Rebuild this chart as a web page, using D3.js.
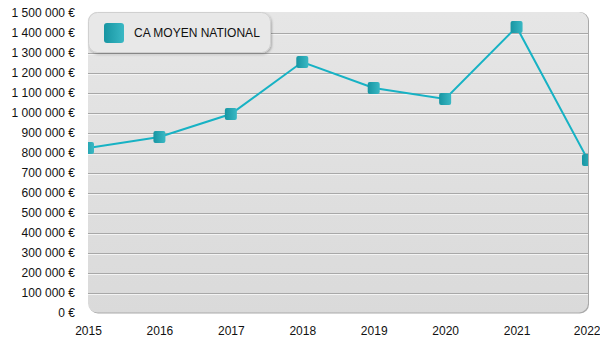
<!DOCTYPE html>
<html><head><meta charset="utf-8">
<script src="https://cdn.jsdelivr.net/npm/d3@7"></script>
<style>
html,body{margin:0;padding:0;background:#fff;}
text{font-family:"Liberation Sans",Arial,Helvetica,sans-serif;}
</style></head>
<body>
<svg id="c" width="600" height="350"></svg>
<script>
const years = ["2015","2016","2017","2018","2019","2020","2021","2022"];
const caMoyen = [825000, 880000, 995000, 1255000, 1125000, 1070000, 1430000, 765000];
const yTicks = [0,100000,200000,300000,400000,500000,600000,700000,800000,900000,1000000,1100000,1200000,1300000,1400000,1500000];
const seriesName = "CA MOYEN NATIONAL";

const svg = d3.select("#c");
const L = 88, R = 588, T = 13, B = 313;
const x = d3.scalePoint().domain(years).range([L, R]);
const y = d3.scaleLinear().domain([0, 1500000]).range([B, T]);
const loc = d3.formatLocale({decimal: ",", thousands: " ", grouping: [3], currency: ["", " €"]});
const fmt = loc.format("$,.0f");

const defs = svg.append("defs");
const bg = defs.append("linearGradient").attr("id","bg").attr("x1",0).attr("y1",0).attr("x2",0).attr("y2",1);
bg.append("stop").attr("offset","0%").attr("stop-color","#e6e6e6");
bg.append("stop").attr("offset","100%").attr("stop-color","#dadada");
const mk = defs.append("linearGradient").attr("id","mk").attr("x1",0).attr("y1",0).attr("x2",1).attr("y2",0);
mk.append("stop").attr("offset","0%").attr("stop-color","#1795a2");
mk.append("stop").attr("offset","100%").attr("stop-color","#3ab8c4");
defs.append("clipPath").attr("id","clip").append("rect")
  .attr("x",L).attr("y",T-2).attr("width",R-L).attr("height",B-T+2);
const sh = defs.append("filter").attr("id","sh").attr("x","-10%").attr("y","-20%").attr("width","130%").attr("height","160%");
sh.append("feDropShadow").attr("dx",1).attr("dy",1.5).attr("stdDeviation",1.2).attr("flood-color","#000").attr("flood-opacity",0.25);

// plot background with shadow edge
svg.append("rect").attr("x",L+1).attr("y",T-1).attr("width",R-L).attr("height",B-T+1.5)
  .attr("rx",9).attr("fill","#a9a9a9");
svg.append("rect").attr("x",L).attr("y",T-1).attr("width",R-L).attr("height",B-T+0.5)
  .attr("rx",9).attr("fill","url(#bg)");

// gridlines
const grid = svg.append("g");
yTicks.filter(v => v > 0 && v < 1500000).forEach(v => {
  grid.append("line").attr("x1",L).attr("x2",R).attr("y1",Math.round(y(v))+0.5).attr("y2",Math.round(y(v))+0.5)
    .attr("stroke","#a8a8a8").attr("stroke-width",1);
  grid.append("line").attr("x1",L).attr("x2",R).attr("y1",Math.round(y(v))+1.5).attr("y2",Math.round(y(v))+1.5)
    .attr("stroke","#f4f4f4").attr("stroke-width",1);
});

// y axis labels
const yAxis = d3.axisLeft(y).tickValues(yTicks).tickFormat(fmt).tickSize(0).tickPadding(0);
const ga = svg.append("g").attr("transform",`translate(${L-13},0)`).call(yAxis);
ga.select(".domain").remove();
ga.selectAll("text").attr("font-size",12).attr("fill","#111").attr("font-family","'Liberation Sans',Arial,sans-serif");

// x axis labels
const xAxis = d3.axisBottom(x).tickSize(0).tickPadding(0);
const gx = svg.append("g").attr("transform",`translate(0,${B+13})`).call(xAxis);
gx.select(".domain").remove();
gx.selectAll("text").attr("font-size",12).attr("fill","#111").attr("font-family","'Liberation Sans',Arial,sans-serif");
gx.selectAll(".tick").filter(d => d === years[years.length-1]).select("text")
  .attr("text-anchor","end").attr("dx", 12);

// line & markers
const plot = svg.append("g").attr("clip-path","url(#clip)");
plot.append("path").datum(caMoyen)
  .attr("d", d3.line().x((d,i)=>x(years[i])).y(d=>y(d)))
  .attr("fill","none").attr("stroke","#17b2c4").attr("stroke-width",2);
plot.selectAll("rect.m").data(caMoyen).join("rect").attr("class","m")
  .attr("x",(d,i)=>x(years[i])-6).attr("y",d=>y(d)-6)
  .attr("width",12).attr("height",12).attr("rx",2)
  .attr("fill","url(#mk)");

// legend
const lg = svg.append("g");
lg.append("rect").attr("x",L+0.5).attr("y",T-0.5).attr("width",182).attr("height",40).attr("rx",9)
  .attr("fill","#e8e8e8").attr("stroke","#d0d0d0").attr("filter","url(#sh)");
lg.append("rect").attr("x",104).attr("y",23).attr("width",20).attr("height",20).attr("rx",3)
  .attr("fill","url(#mk)");
lg.append("text").attr("x",134).attr("y",33).attr("dy","0.35em").attr("font-size",12).attr("fill","#111")
  .text(seriesName);
</script>
</body></html>
